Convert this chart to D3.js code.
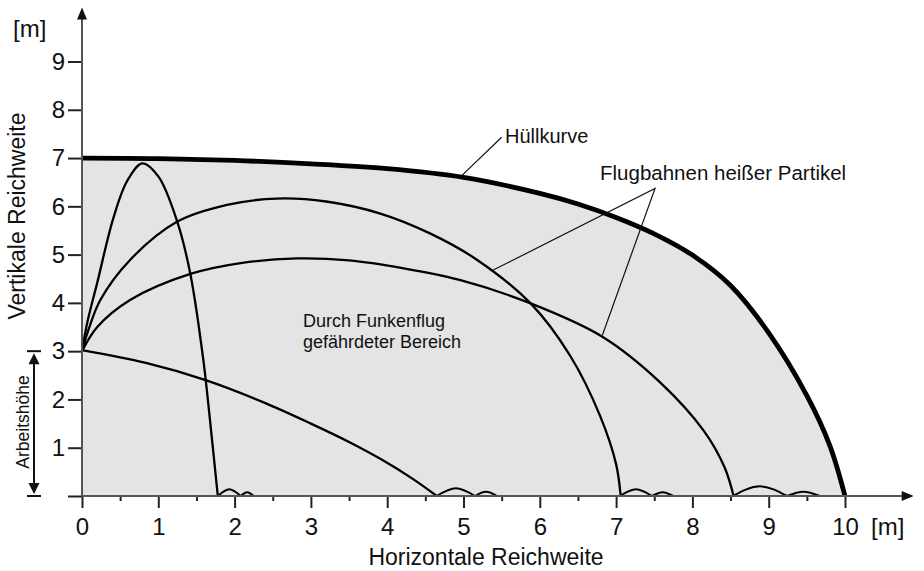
<!DOCTYPE html>
<html>
<head>
<meta charset="utf-8">
<script src="https://cdn.jsdelivr.net/npm/d3@7"></script>
<style>
  body { margin: 0; background: #fff; }
  svg text { font-family: "Liberation Sans", Arial, sans-serif; fill: #111; }
</style>
</head>
<body>
<svg id="chart" width="924" height="571"></svg>
<script>
// ticks
const xMajor = [0, 1, 2, 3, 4, 5, 6, 7, 8, 9, 10];
const xMinor = [0.5, 1.5, 2.5, 3.5, 4.5, 5.5, 6.5, 7.5, 8.5, 9.5];
const yMajor = [0, 1, 2, 3, 4, 5, 6, 7, 8, 9];
const yLabelled = [1, 2, 3, 4, 5, 6, 7, 8, 9];

// Hüllkurve (envelope)
const hullX = [0, 1, 2, 3, 4, 5, 6, 6.5, 7, 7.5, 8, 8.5, 9, 9.5, 9.8, 10];
const hullY = [7.0, 6.99, 6.95, 6.88, 6.78, 6.6, 6.27, 6.05, 5.77, 5.43, 4.99, 4.36, 3.38, 2.08, 1.05, 0];

// Flugbahnen
const steepX = [0, 0.07, 0.2, 0.41, 0.59, 0.79, 1.0, 1.245, 1.42, 1.59, 1.69, 1.78];
const steepY = [3, 3.6, 4.42, 5.75, 6.52, 6.89, 6.62, 5.7, 4.6, 2.82, 1.38, 0];
const highX = [0, 0.08, 0.24, 0.63, 1.245, 1.9, 2.55, 3.2, 3.91, 4.56, 5.17, 5.88, 6.4, 6.79, 7.0, 7.06];
const highY = [3, 3.42, 4.06, 4.89, 5.68, 6.03, 6.16, 6.1, 5.85, 5.44, 4.9, 3.99, 2.9, 1.66, 0.66, 0];
const lowX = [0, 0.2, 0.63, 1.42, 2.1, 2.82, 3.5, 4.2, 4.96, 5.88, 6.82, 7.58, 8.15, 8.42, 8.54];
const lowY = [3, 3.5, 4.06, 4.6, 4.83, 4.92, 4.88, 4.72, 4.47, 3.99, 3.3, 2.35, 1.35, 0.6, 0];
const downX = [0, 0.85, 1.62, 2.38, 3.0, 3.5, 3.91, 4.34, 4.65];
const downY = [3.02, 2.75, 2.40, 1.94, 1.5, 1.12, 0.77, 0.35, 0];

// Aufpraller: [start, ende, höhe]
const bounces = [
  [1.78, 2.08, 0.14], [2.08, 2.25, 0.08],
  [4.65, 5.15, 0.16], [5.15, 5.44, 0.09],
  [7.05, 7.47, 0.14], [7.47, 7.75, 0.08],
  [8.53, 9.24, 0.20], [9.24, 9.67, 0.09]
];

const svg = d3.select("#chart");
const x = d3.scaleLinear().domain([0, 10]).range([82, 845]);
const y = d3.scaleLinear().domain([0, 9]).range([496, 61.5]);

const zip = (xs, ys) => xs.map((v, i) => [v, ys[i]]);
const smooth = d3.curveCatmullRom.alpha(0.5);
const line = d3.line().x(d => x(d[0])).y(d => y(d[1])).curve(smooth);

// gefährdeter Bereich
const area = d3.area().x(d => x(d[0])).y0(y(0)).y1(d => y(d[1])).curve(smooth);
svg.append("path")
  .attr("d", area(zip(hullX, hullY)))
  .attr("fill", "#e4e4e4");

// trajectories
[[steepX, steepY], [highX, highY], [lowX, lowY], [downX, downY]].forEach(function (t) {
  svg.append("path")
    .attr("d", line(zip(t[0], t[1])))
    .attr("fill", "none")
    .attr("stroke", "#000")
    .attr("stroke-width", 2.3);
});

const bounceLine = d3.line().x(d => x(d[0])).y(d => y(d[1])).curve(d3.curveNatural);
svg.selectAll(".bounce")
  .data(bounces)
  .enter()
  .append("path")
  .attr("class", "bounce")
  .attr("d", d => bounceLine([[d[0], 0], [(d[0] + d[1]) / 2, d[2]], [d[1], 0]]))
  .attr("fill", "none")
  .attr("stroke", "#000")
  .attr("stroke-width", 2);

// Hüllkurve
svg.append("path")
  .attr("d", line(zip(hullX, hullY)))
  .attr("fill", "none")
  .attr("stroke", "#000")
  .attr("stroke-width", 4.8);

// axes
const xAxis = svg.append("g")
  .attr("transform", "translate(0," + y(0) + ")")
  .call(d3.axisBottom(x).tickValues(xMajor).tickSize(12).tickPadding(10).tickFormat(d3.format("d")));
const xAxisMinor = svg.append("g")
  .attr("transform", "translate(0," + y(0) + ")")
  .call(d3.axisBottom(x).tickValues(xMinor).tickSize(5).tickFormat(""));
const yAxis = svg.append("g")
  .attr("transform", "translate(" + x(0) + ",0)")
  .call(d3.axisLeft(y).tickValues(yMajor).tickSize(14).tickPadding(3)
    .tickFormat(d => yLabelled.indexOf(d) >= 0 ? d : ""));

[xAxis, xAxisMinor, yAxis].forEach(function (g) {
  g.select(".domain").remove();
  g.selectAll(".tick line").attr("stroke", "#222").attr("stroke-width", 2);
  g.selectAll(".tick text")
    .attr("fill", "#111")
    .style("font-size", "24px")
    .style("font-family", "'Liberation Sans', Arial, sans-serif");
});

// axis lines with arrows
svg.append("line")
  .attr("x1", x(0)).attr("y1", y(0)).attr("x2", x(10.8)).attr("y2", y(0))
  .attr("stroke", "#555").attr("stroke-width", 2);
svg.append("line")
  .attr("x1", x(0)).attr("y1", y(0)).attr("x2", x(0)).attr("y2", y(9.95))
  .attr("stroke", "#555").attr("stroke-width", 2);
const xt = x(10.9), yt = y(0);
svg.append("path")
  .attr("d", `M${xt},${yt} L${xt - 12},${yt - 5} L${xt - 12},${yt + 5} Z`)
  .attr("fill", "#111");
const ax = x(0), ay = y(10.12);
svg.append("path")
  .attr("d", `M${ax},${ay} L${ax - 5},${ay + 12} L${ax + 5},${ay + 12} Z`)
  .attr("fill", "#111");

// units
svg.append("text").attr("x", 13).attr("y", 37).style("font-size", "24px").text("[m]");
svg.append("text").attr("x", 871).attr("y", 535).style("font-size", "24px").text("[m]");

// axis titles
svg.append("text")
  .attr("transform", "translate(25," + 216 + ") rotate(-90)")
  .attr("text-anchor", "middle")
  .style("font-size", "23px")
  .text("Vertikale Reichweite");
svg.append("text")
  .attr("x", 486).attr("y", 565)
  .attr("text-anchor", "middle")
  .style("font-size", "23px")
  .text("Horizontale Reichweite");

// Arbeitshöhe bracket
const bx = 34;
[3, 0].forEach(function (v) {
  svg.append("line")
    .attr("x1", 27).attr("x2", 41).attr("y1", y(v)).attr("y2", y(v))
    .attr("stroke", "#111").attr("stroke-width", 2);
});
svg.append("line")
  .attr("x1", bx).attr("x2", bx).attr("y1", y(3) + 4).attr("y2", y(0) - 4)
  .attr("stroke", "#111").attr("stroke-width", 2);
svg.append("path")
  .attr("d", `M${bx},${y(3) + 2} L${bx - 5.5},${y(3) + 13} L${bx + 5.5},${y(3) + 13} Z`)
  .attr("fill", "#111");
svg.append("path")
  .attr("d", `M${bx},${y(0) - 2} L${bx - 5.5},${y(0) - 13} L${bx + 5.5},${y(0) - 13} Z`)
  .attr("fill", "#111");
svg.append("text")
  .attr("transform", "translate(29," + 422 + ") rotate(-90)")
  .attr("text-anchor", "middle")
  .style("font-size", "17.5px")
  .text("Arbeitshöhe");

// annotations
const thin = g => g.attr("stroke", "#111").attr("stroke-width", 1.2).attr("fill", "none");
svg.append("line")
  .attr("x1", x(4.98)).attr("y1", y(6.64)).attr("x2", x(5.5)).attr("y2", y(7.43))
  .call(thin);
svg.append("text").attr("x", 505).attr("y", 143).style("font-size", "20px").text("Hüllkurve");

svg.append("path")
  .attr("d", d3.line()([[x(5.39), y(4.68)], [x(7.51), y(6.37)], [x(6.82), y(3.33)]]))
  .call(thin);
svg.append("text").attr("x", 600).attr("y", 180).style("font-size", "20.5px").text("Flugbahnen heißer Partikel");

svg.append("text").attr("x", 303).attr("y", 327).style("font-size", "18px").text("Durch Funkenflug");
svg.append("text").attr("x", 303).attr("y", 348).style("font-size", "18px").text("gefährdeter Bereich");
</script>
</body>
</html>
